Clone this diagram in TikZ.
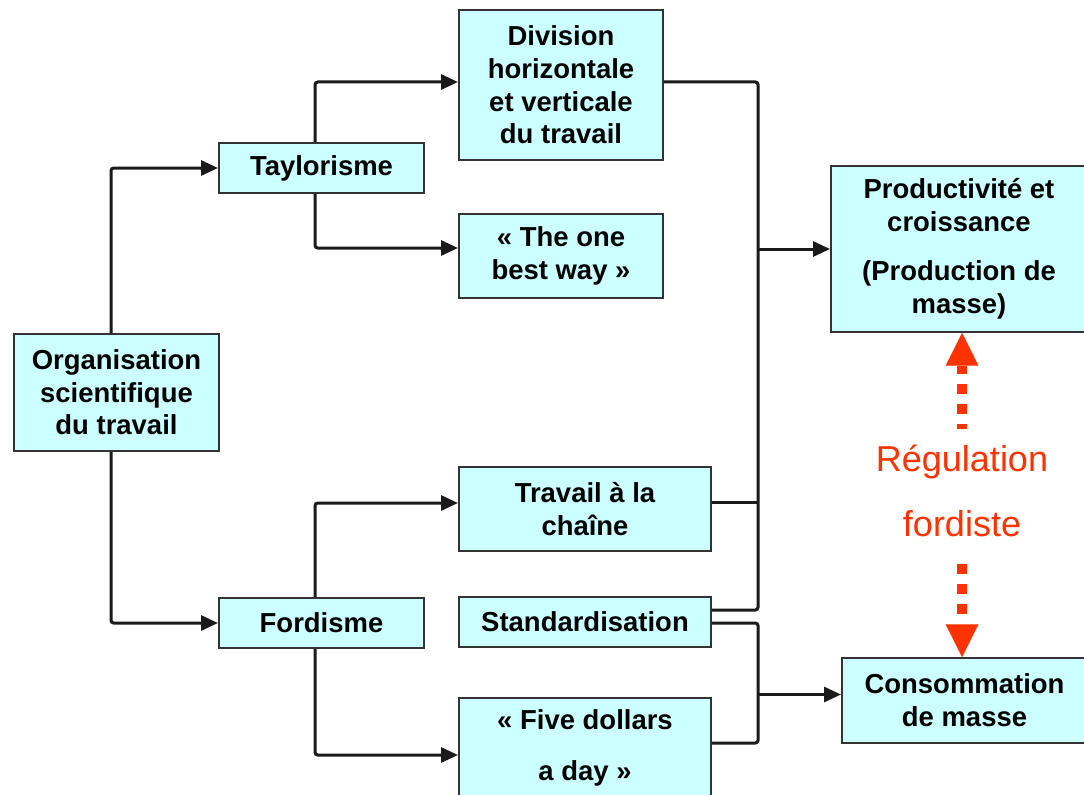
\documentclass[tikz,border=0pt]{standalone}
\usepackage{fontspec}
\setmainfont{Liberation Sans}
\usetikzlibrary{arrows.meta}
\definecolor{boxfill}{HTML}{CCFFFF}
\definecolor{boxline}{HTML}{333333}
\definecolor{regred}{HTML}{FF3300}
\definecolor{connc}{HTML}{1A1A1A}
\begin{document}
\begin{tikzpicture}[x=0.75pt,y=-0.75pt,
  box/.style={draw=boxline,fill=boxfill,line width=1.5pt,align=center,inner sep=0pt,
    font=\bfseries\fontsize{20.6}{24.5}\selectfont},
  conn/.style={draw=connc,line width=2.25pt,rounded corners=2pt},
  connarrow/.style={conn,-{Triangle[length=12.75pt,width=11.25pt]}},
  regarrow/.style={draw=regred,line width=7.5pt,dash pattern=on 7.5pt off 7.5pt,dash phase=7.5pt,
    {Triangle[length=24.5pt,width=24.5pt,line width=0.01pt]}-{Triangle[length=24.5pt,width=24.5pt,line width=0.01pt]}},
  regtext/.style={fill=white,text=regred,align=center,inner sep=0pt,minimum height=93.75pt,minimum width=150pt,
    font=\fontsize{27}{48.75}\selectfont}]
\useasboundingbox (0,0) rectangle (1084,795);
\fill[white] (0,0) rectangle (1084,795);

\node[box,minimum width=153.75pt,minimum height=87.75pt] (org) at (116.5,392.5) {Organisation\\scientifique\\du travail};
\node[box,minimum width=153.75pt,minimum height=37.5pt] (tay) at (321.5,168) {Taylorisme};
\node[box,minimum width=153.75pt,minimum height=37.5pt] (ford) at (321.5,623) {Fordisme};
\node[box,minimum width=153pt,minimum height=112.5pt] (div) at (561,85) {Division\\horizontale\\et verticale\\du travail};
\node[box,minimum width=153pt,minimum height=63pt] (best) at (561,256) {« The one\\best way »};
\node[box,minimum width=189pt,minimum height=63pt] (trav) at (585,509) {Travail à la\\chaîne};
\node[box,minimum width=189pt,minimum height=37.5pt] (std) at (585,622) {Standardisation};
\node[box,minimum width=189pt,minimum height=75pt] (five) at (585,748) {« Five dollars\\[14.25pt]a day »};
\node[box,minimum width=192pt,minimum height=124.5pt] (prod) at (959,249) {Productivité et\\croissance\\[12.4pt](Production de\\masse)};
\node[box,minimum width=183.75pt,minimum height=63.75pt] (cons) at (964.5,700.5) {Consommation\\de masse};

\coordinate (bx1) at (111,0);
\coordinate (bx2) at (315,0);
\coordinate (bus1) at (758,610);
\coordinate (bus2) at (758,743);
\coordinate (rx) at (962,0);
\coordinate (consin) at ([yshift=4.5pt]cons.west);

% left tree
\draw[connarrow] (org.north -| bx1) |- (tay.west);
\draw[connarrow] (org.south -| bx1) |- (ford.west);
\draw[connarrow] (tay.north -| bx2) |- ([yshift=2.25pt]div.west);
\draw[connarrow] (tay.south -| bx2) |- ([yshift=6pt]best.west);
\draw[connarrow] (ford.north -| bx2) |- ([yshift=4.5pt]trav.west);
\draw[connarrow] (ford.south -| bx2) |- ([yshift=-5.25pt]five.west);

% upper bus
\draw[conn] ([yshift=2.25pt]div.east) -| (bus1) -- ([yshift=9pt]std.east);
\draw[conn] ([yshift=5.25pt]trav.east) -- ([yshift=5.25pt]trav.east -| bus1);
\draw[connarrow] (bus1 |- prod.west) -- (prod.west);

% lower bus
\draw[conn] ([yshift=-0.75pt]std.east) -| (bus2) -- ([yshift=3.75pt]five.east);
\draw[connarrow] (bus2 |- consin) -- (consin);

% regulation
\draw[regarrow] (cons.north -| rx) -- (prod.south -| rx);
\node[regtext] (reg) at (962,491) {Régulation\\fordiste};
\end{tikzpicture}
\end{document}
